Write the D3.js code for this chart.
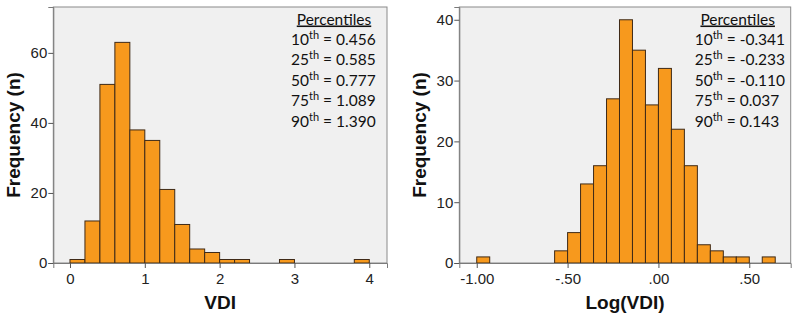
<!DOCTYPE html>
<html>
<head>
<meta charset="utf-8">
<script src="https://cdn.jsdelivr.net/npm/d3@7"></script>
<style>
  body { margin: 0; background: #fff; }
  svg { display: block; }
</style>
</head>
<body>
<div id="chart"></div>
<script>
// histogram data: lower bin edge + count
var vdiBinLo = [0, 0.2, 0.4, 0.6, 0.8, 1.0, 1.2, 1.4, 1.6, 1.8, 2.0, 2.2, 2.8, 3.8];
var vdiCounts = [1, 12, 51, 63, 38, 35, 21, 11, 4, 3, 1, 1, 1, 1];
var vdiBinWidth = 0.2;
var vdiTicks = [0, 1, 2, 3, 4];
var vdiYTicks = [0, 20, 40, 60];
var vdiPct = [["10", "0.456"], ["25", "0.585"], ["50", "0.777"], ["75", "1.089"], ["90", "1.390"]];

var logBinLo = [-1.0, -0.5714, -0.5, -0.4286, -0.3571, -0.2857, -0.2143, -0.1429, -0.0714,
                0.0, 0.0714, 0.1429, 0.2143, 0.2857, 0.3571, 0.4286, 0.5714];
var logCounts = [1, 2, 5, 13, 16, 27, 40, 35, 26, 32, 22, 16, 3, 2, 1, 1, 1];
var logBinWidth = 1 / 14;
var logTicks = [-1.0, -0.5, 0.0, 0.5];
var logTickLabels = ["-1.00", "-.50", ".00", ".50"];
var logYTicks = [0, 10, 20, 30, 40];
var logPct = [["10", "-0.341"], ["25", "-0.233"], ["50", "-0.110"], ["75", "0.037"], ["90", "0.143"]];

var W = 800, H = 321;
var svg = d3.select("#chart").append("svg")
  .attr("width", W).attr("height", H);

function drawPanel(opt){
  var left = opt.left, right = opt.right, top = 7, bottom = 263;
  var x = d3.scaleLinear().domain(opt.xDomain).range([left, right]);
  var y = d3.scaleLinear().domain([0, opt.yMax]).range([bottom, top]);
  var g = svg.append("g");

  // plot background + frame
  g.append("rect")
    .attr("x", left).attr("y", top)
    .attr("width", right - left).attr("height", bottom - top)
    .attr("fill", "#f0f0f0")
    .attr("stroke", "#8a8a8a").attr("stroke-width", 1);

  // bars
  var bins = opt.binLo.map(function(d, i){ return {x0: d, x1: d + opt.binWidth, n: opt.counts[i]}; });
  g.selectAll("rect.bar").data(bins).enter().append("rect")
    .attr("class", "bar")
    .attr("x", function(d){ return x(d.x0); })
    .attr("y", function(d){ return y(d.n); })
    .attr("width", function(d){ return x(d.x1) - x(d.x0); })
    .attr("height", function(d){ return y(0) - y(d.n); })
    .attr("fill", "#f7991d")
    .attr("stroke", "#3f2a17")
    .attr("stroke-width", 1);

  // axes
  var xAxis = d3.axisBottom(x).tickValues(opt.xTicks).tickSize(5).tickPadding(5)
    .tickFormat(function(d, i){ return opt.xLabels ? opt.xLabels[i] : d; });
  var gx = g.append("g").attr("transform", "translate(0," + bottom + ")").call(xAxis);
  var yAxis = d3.axisLeft(y).tickValues(opt.yTicks).tickSize(5).tickPadding(1);
  var gy = g.append("g").attr("transform", "translate(" + left + ",0)").call(yAxis);

  [gx, gy].forEach(function(a){
    a.select(".domain").attr("stroke", "#7a7a7a");
    a.selectAll(".tick line").attr("stroke", "#555");
    a.selectAll(".tick text")
      .attr("fill", "#222")
      .style("font-family", "'Liberation Sans', Arial, sans-serif")
      .style("font-size", "15px");
  });

  // axis titles
  g.append("text")
    .attr("x", (left + right) / 2).attr("y", 309)
    .attr("text-anchor", "middle")
    .style("font-family", "'Liberation Sans', Arial, sans-serif")
    .style("font-weight", "bold").style("font-size", "19px")
    .attr("fill", "#111")
    .text(opt.xTitle);
  g.append("text")
    .attr("transform", "translate(" + (left - 33) + "," + ((top + bottom) / 2) + ") rotate(-90)")
    .attr("text-anchor", "middle")
    .style("font-family", "'Liberation Sans', Arial, sans-serif")
    .style("font-weight", "bold").style("font-size", "19px")
    .attr("fill", "#111")
    .text("Frequency (n)");

  // percentiles box
  var pct = g.append("g").style("font-family", "Lato, 'Open Sans', sans-serif")
    .style("font-size", "15.5px").attr("fill", "#111");
  pct.append("text")
    .attr("x", right - 53).attr("y", 24.5)
    .attr("text-anchor", "middle")
    .style("text-decoration", "underline")
    .text("Percentiles");
  opt.pct.forEach(function(p, i){
    var t = pct.append("text")
      .attr("x", right - 96).attr("y", 45 + i * 20.4);
    t.append("tspan").text(p[0]);
    t.append("tspan").attr("dy", -6).style("font-size", "11px").text("th");
    t.append("tspan").attr("dy", 6).text(" = " + p[1]);
  });
}

drawPanel({
  left: 53.3, right: 387,
  xDomain: [-0.223, 4.237], yMax: 73.1,
  binLo: vdiBinLo, counts: vdiCounts, binWidth: vdiBinWidth,
  xTicks: vdiTicks, yTicks: vdiYTicks,
  xTitle: "VDI", pct: vdiPct
});

drawPanel({
  left: 459.3, right: 790.7,
  xDomain: [-1.096, 0.728], yMax: 42.1,
  binLo: logBinLo, counts: logCounts, binWidth: logBinWidth,
  xTicks: logTicks, xLabels: logTickLabels, yTicks: logYTicks,
  xTitle: "Log(VDI)", pct: logPct
});
</script>
</body>
</html>
